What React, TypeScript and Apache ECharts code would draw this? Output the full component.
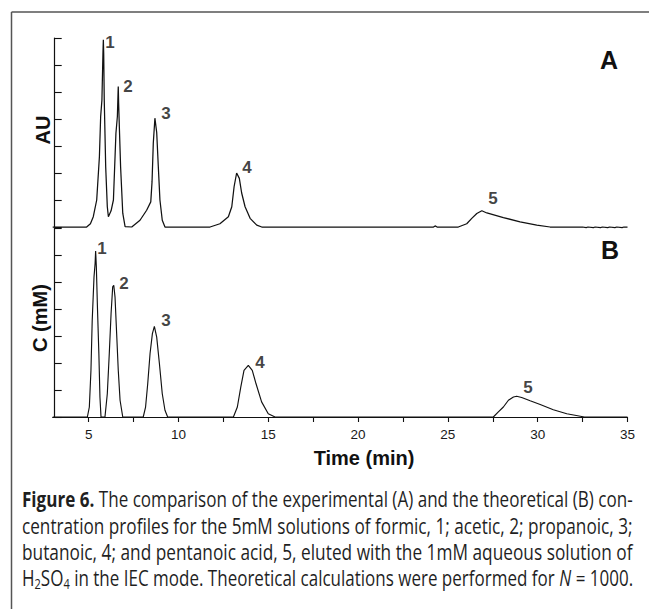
import React, { useEffect, useRef } from "react";
import * as echarts from "echarts";

// ---- data ----
const TIME_MIN = 3;
const TIME_MAX = 35;
const X_TICKS = [5, 7.5, 10, 12.5, 15, 17.5, 20, 22.5, 25, 27.5, 30, 32.5, 35];
const X_LABELS = [5, 10, 15, 20, 25, 30, 35];
const Y_MAX = 7;

// Panel A: experimental detector signal (AU), [time, signal]
const SIGNAL_A: [number, number][] = [
  [3, 0], [4.89, 0], [5.1, 0.12], [5.26, 0.38], [5.45, 1.0], [5.6, 2.6], [5.67, 4.09], [5.74, 4.7],
  [5.8, 6.5], [5.82, 6.93], [5.84, 6.4], [5.87, 4.7], [5.95, 2.23], [6.04, 0.75], [6.1, 0.38],
  [6.25, 0.6], [6.38, 1.0], [6.52, 3.47], [6.6, 4.09], [6.64, 5.0], [6.65, 5.2], [6.67, 4.6],
  [6.71, 3.71], [6.78, 2.23], [6.9, 0.51], [7.03, 0.01],
  [7.4, 0], [7.86, 0.25], [8.23, 0.62], [8.46, 0.93], [8.53, 1.67], [8.6, 3.1], [8.69, 4.03],
  [8.79, 3.5], [8.88, 2.23], [8.97, 1.0], [9.1, 0.25], [9.25, 0],
  [11.76, 0], [12.31, 0.12], [12.78, 0.38], [12.97, 0.75], [13.1, 1.5], [13.24, 2.0], [13.39, 1.8],
  [13.52, 1.26], [13.71, 0.75], [13.99, 0.32], [14.36, 0.07], [14.64, 0],
  [24.2, 0], [24.29, 0.04], [24.4, 0],
  [25.58, 0], [26.05, 0.12], [26.33, 0.32], [26.61, 0.5], [26.89, 0.6], [27.17, 0.52], [28.09, 0.35],
  [29.02, 0.19], [29.95, 0.07], [30.69, 0],
  [32.5, 0], [32.7, -0.02], [32.8, 0], [33.1, -0.02], [33.2, 0], [33.5, -0.02], [33.6, 0],
  [33.9, -0.02], [34.0, 0], [34.3, -0.02], [34.4, 0], [34.7, -0.02], [34.8, 0], [35, 0],
];

// Panel B: theoretical concentration (mM), [time, C]
const SIGNAL_B: [number, number][] = [
  [3, 0], [4.93, 0], [5.04, 0.37], [5.13, 1.73], [5.2, 3.58], [5.3, 5.19], [5.36, 5.68], [5.39, 6.15],
  [5.43, 5.56], [5.49, 4.08], [5.57, 2.35], [5.63, 0.74], [5.69, 0],
  [5.91, 0], [6.04, 0.86], [6.15, 2.35], [6.25, 3.83], [6.34, 4.82], [6.4, 4.88], [6.47, 4.44],
  [6.56, 3.09], [6.65, 1.73], [6.75, 0.62], [6.9, 0],
  [8.04, 0], [8.17, 0.37], [8.29, 1.23], [8.42, 2.35], [8.55, 3.09], [8.66, 3.36], [8.79, 2.96],
  [8.94, 1.98], [9.1, 0.86], [9.25, 0.25], [9.4, 0],
  [13.06, 0], [13.28, 0.37], [13.47, 1.11], [13.65, 1.73], [13.89, 1.91], [14.11, 1.73], [14.32, 1.23],
  [14.63, 0.56], [15.0, 0.12], [15.38, 0],
  [27.53, 0], [27.81, 0.19], [28.09, 0.37], [28.37, 0.62], [28.65, 0.74], [28.83, 0.77], [29.11, 0.72],
  [29.58, 0.6], [30.14, 0.46], [30.87, 0.27], [31.62, 0.12], [32.45, 0.02], [32.6, 0], [35, 0],
];

// Peak number labels: [time, height, text]
const PEAK_LABELS_A: [number, number, string][] = [
  [6.19, 6.85, "1"], [7.19, 5.19, "2"], [9.31, 4.22, "3"], [13.82, 2.22, "4"], [27.51, 1.07, "5"],
];
const PEAK_LABELS_B: [number, number, string][] = [
  [5.74, 6.25, "1"], [6.97, 4.95, "2"], [9.31, 3.58, "3"], [14.54, 2.03, "4"], [29.46, 1.1, "5"],
];

const X_TITLE = "Time (min)";
const Y_TITLE_A = "AU";
const Y_TITLE_B = "C (mM)";
const PANEL_A = "A";
const PANEL_B = "B";

type Seg = { t: string; s?: string };
const CAPTION: Seg[][] = [
  [{ t: "Figure 6.", s: "b" }, { t: " The comparison of the experimental (A) and the theoretical (B) con-" }],
  [{ t: "centration profiles for the 5mM solutions of formic, 1; acetic, 2; propanoic, 3;" }],
  [{ t: "butanoic, 4; and pentanoic acid, 5, eluted with the 1mM aqueous solution of" }],
  [
    { t: "H" }, { t: "2", s: "sub" }, { t: "SO" }, { t: "4", s: "sub" },
    { t: " in the IEC mode. Theoretical calculations were performed for " },
    { t: "N", s: "i" }, { t: " = 1000." },
  ],
];

const SANS = "'Liberation Sans', Arial, sans-serif";
const CAP_FONT = "'Open Sans', 'Noto Sans', sans-serif";
const CAP_SIZE = 21.5;
const SUB_SIZE = 14;
const CAP_LEFT = 22;
const CAP_WIDTH = 611;
const CAP_TOP = 499;
const CAP_STEP = 26.3;

function segFont(s?: string) {
  if (s === "b") return `bold ${CAP_SIZE}px ${CAP_FONT}`;
  if (s === "i") return `italic ${CAP_SIZE}px ${CAP_FONT}`;
  if (s === "sub") return `${SUB_SIZE}px ${CAP_FONT}`;
  return `${CAP_SIZE}px ${CAP_FONT}`;
}

function measureLine(line: Seg[]) {
  const c = document.createElement("canvas");
  const ctx = c.getContext("2d");
  if (!ctx) return CAP_WIDTH;
  let w = 0;
  for (const sg of line) {
    ctx.font = segFont(sg.s);
    w += ctx.measureText(sg.t).width;
  }
  return w;
}

export default function App() {
  const ref = useRef<HTMLDivElement>(null);

  useEffect(() => {
    if (!ref.current) return;
    const chart = echarts.init(ref.current, undefined, { renderer: "svg" });

    const capColor = "#1f1f1f";
    const rich = {
      n: { fontSize: CAP_SIZE, fontFamily: CAP_FONT, fill: capColor, lineHeight: 26 },
      b: { fontSize: CAP_SIZE, fontFamily: CAP_FONT, fontWeight: "bold", fill: capColor, lineHeight: 26 },
      i: { fontSize: CAP_SIZE, fontFamily: CAP_FONT, fontStyle: "italic", fill: capColor, lineHeight: 26 },
      sub: { fontSize: SUB_SIZE, fontFamily: CAP_FONT, fill: capColor, lineHeight: 16, verticalAlign: "bottom" },
    };

    const captionEls = CAPTION.map((line, i) => {
      const w = measureLine(line);
      const text = line.map((sg) => `{${sg.s || "n"}|${sg.t}}`).join("");
      return {
        type: "text",
        x: CAP_LEFT,
        y: CAP_TOP + i * CAP_STEP,
        scaleX: CAP_WIDTH / w,
        style: {
          text,
          rich,
          fontSize: CAP_SIZE,
          fontFamily: CAP_FONT,
          fill: capColor,
          align: "left",
          verticalAlign: "middle",
        },
      };
    });

    const yAxisCommon = {
      type: "value",
      min: 0,
      max: Y_MAX,
      interval: 1,
      offset: -2,
      axisLine: { show: true, lineStyle: { color: "#111", width: 1.2 } },
      axisTick: { show: true, inside: true, length: 7, lineStyle: { color: "#111", width: 1.1 } },
      axisLabel: { show: false },
      splitLine: { show: false },
    };

    const labelSeries = (data: [number, number, string][], idx: number) => ({
      type: "scatter",
      xAxisIndex: idx,
      yAxisIndex: idx,
      data,
      symbolSize: 1,
      silent: true,
      itemStyle: { color: "transparent" },
      label: {
        show: true,
        position: "inside",
        formatter: (p: any) => p.data[2],
        fontFamily: SANS,
        fontWeight: "bold",
        fontSize: 17,
        color: "#111",
      },
      z: 5,
    });

    chart.setOption({
      animation: false,
      backgroundColor: "#ffffff",
      grid: [
        { left: 52.7, right: 21.5, top: 38, height: 189 },
        { left: 52.7, right: 21.5, top: 228, height: 189 },
      ],
      xAxis: [
        { type: "value", gridIndex: 0, min: TIME_MIN, max: TIME_MAX, show: false },
        {
          type: "value",
          gridIndex: 1,
          min: TIME_MIN,
          max: TIME_MAX,
          axisLine: { show: true, onZero: false, lineStyle: { color: "#111", width: 1.2 } },
          axisTick: { show: true, length: 5, customValues: X_TICKS, lineStyle: { color: "#111", width: 1.1 } },
          axisLabel: {
            show: true,
            customValues: X_LABELS,
            fontFamily: SANS,
            fontSize: 13.5,
            color: "#1a1a1a",
            margin: 10,
          },
          splitLine: { show: false },
        },
      ],
      yAxis: [
        { ...yAxisCommon, gridIndex: 0 },
        { ...yAxisCommon, gridIndex: 1 },
      ],
      series: [
        {
          type: "line",
          xAxisIndex: 0,
          yAxisIndex: 0,
          data: SIGNAL_A,
          showSymbol: false,
          symbol: "none",
          clip: false,
          lineStyle: { color: "#111", width: 1.25 },
          silent: true,
        },
        {
          type: "line",
          xAxisIndex: 1,
          yAxisIndex: 1,
          data: SIGNAL_B,
          showSymbol: false,
          symbol: "none",
          clip: false,
          lineStyle: { color: "#111", width: 1.15 },
          silent: true,
        },
        labelSeries(PEAK_LABELS_A, 0),
        labelSeries(PEAK_LABELS_B, 1),
      ],
      graphic: [
        { type: "line", shape: { x1: 11.5, y1: 12, x2: 649, y2: 12 }, style: { stroke: "#555", lineWidth: 1.5 } },
        { type: "line", shape: { x1: 11.5, y1: 12, x2: 11.5, y2: 609 }, style: { stroke: "#555", lineWidth: 1.5 } },
        {
          type: "text", x: 42.5, y: 130, rotation: Math.PI / 2,
          style: { text: Y_TITLE_A, fontFamily: SANS, fontWeight: "bold", fontSize: 20, fill: "#111", align: "center", verticalAlign: "middle" },
        },
        {
          type: "text", x: 40, y: 318, rotation: Math.PI / 2,
          style: { text: Y_TITLE_B, fontFamily: SANS, fontWeight: "bold", fontSize: 20, fill: "#111", align: "center", verticalAlign: "middle" },
        },
        {
          type: "text", x: 609, y: 59.5,
          style: { text: PANEL_A, fontFamily: SANS, fontWeight: "bold", fontSize: 25, fill: "#111", align: "center", verticalAlign: "middle" },
        },
        {
          type: "text", x: 610, y: 250,
          style: { text: PANEL_B, fontFamily: SANS, fontWeight: "bold", fontSize: 25, fill: "#111", align: "center", verticalAlign: "middle" },
        },
        {
          type: "text", x: 364, y: 458,
          style: { text: X_TITLE, fontFamily: SANS, fontWeight: "bold", fontSize: 20, fill: "#111", align: "center", verticalAlign: "middle" },
        },
        ...captionEls,
      ],
    });

    return () => chart.dispose();
  }, []);

  return (
    <div
      ref={ref}
      style={{ position: "absolute", left: 0, top: 0, width: 649, height: 609, background: "#fff" }}
    />
  );
}
